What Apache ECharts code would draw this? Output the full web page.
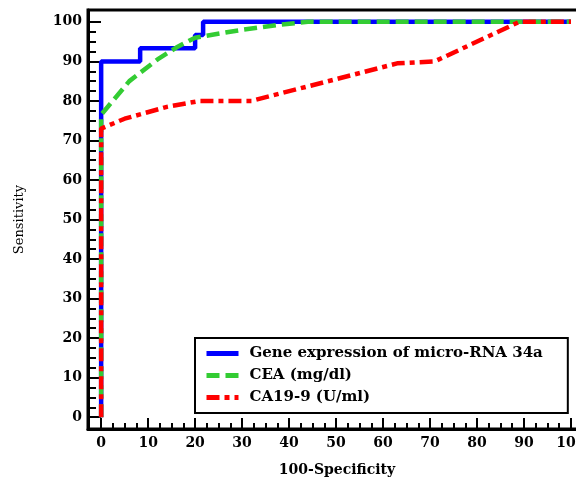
<!DOCTYPE html>
<html>
<head>
<meta charset="utf-8">
<script src="https://cdn.jsdelivr.net/npm/echarts@6/dist/echarts.min.js"></script>
<style>
  html, body { margin: 0; padding: 0; background: #fff; }
  #roc_chart { width: 576px; height: 478px; }
</style>
</head>
<body>
<div id="roc_chart"></div>
<script>
// 数据
var xTicks = [0, 10, 20, 30, 40, 50, 60, 70, 80, 90, 100]
var yTicks = [0, 10, 20, 30, 40, 50, 60, 70, 80, 90, 100]

var mirnaPoints = [[0, 0], [0, 90], [8.3, 90], [8.3, 93.3], [20, 93.3], [20, 96.7], [21.7, 96.7], [21.7, 100], [100, 100]]
var ceaPoints = [[0, 0], [0, 76.5], [6, 85], [12, 90.5], [16, 93.5], [20, 96], [30, 98], [38, 99.3], [44, 100], [100, 100]]
var caPoints = [[0, 0], [0, 73], [5, 75.5], [14, 78.5], [21, 80], [32, 80], [63, 89.5], [71, 90], [89, 100], [100, 100]]

var seriesNames = ['Gene expression of micro-RNA 34a', 'CEA (mg/dl)', 'CA19-9 (U/ml)']

function minorOf(ticks) {
  var out = []
  for (var i = 0; i < ticks.length - 1; i++) {
    var step = (ticks[i + 1] - ticks[i]) / 4
    for (var k = 1; k < 4; k++) out.push(ticks[i] + step * k)
  }
  return out
}

var font = 'DejaVu Serif'

var roc_chart = echarts.init(document.getElementById('roc_chart'))
var roc_option = {
  animation: false,
  grid: {
    left: 88,
    width: 498,
    top: 10,
    bottom: 49,
    outerBoundsMode: 'none',
    containLabel: false,
    show: true,
    borderColor: '#000',
    borderWidth: 3,
  },
  legend: {
    orient: 'vertical',
    left: 195,
    top: 338,
    padding: [8, 25, 8, 9],
    itemWidth: 32,
    itemHeight: 14,
    itemGap: 7,
    borderColor: '#000',
    borderWidth: 2,
    backgroundColor: '#fff',
    itemStyle: { opacity: 0 },
    lineStyle: { width: 5 },
    textStyle: {
      fontFamily: font,
      fontWeight: 'bold',
      fontSize: 15,
      color: '#000',
      padding: [0, 0, 0, 6],
    },
    data: seriesNames,
  },
  xAxis: [
    {
      type: 'value',
      min: -2.8,
      max: 103.2,
      position: 'bottom',
      name: '100-Specificity',
      nameLocation: 'middle',
      nameGap: 34,
      nameTextStyle: { fontFamily: font, fontWeight: 'bold', fontSize: 14, color: '#000' },
      splitLine: { show: false },
      axisLine: { onZero: false, lineStyle: { color: '#000', width: 3 } },
      axisTick: { inside: true, length: 11, lineStyle: { color: '#000', width: 2 }, customValues: xTicks },
      axisLabel: { customValues: xTicks, margin: 7, fontFamily: font, fontWeight: 'bold', fontSize: 14, color: '#000' },
    },
    {
      type: 'value',
      min: -2.8,
      max: 103.2,
      position: 'bottom',
      splitLine: { show: false },
      axisLine: { show: false, onZero: false },
      axisTick: { inside: true, length: 6, lineStyle: { color: '#000', width: 2 }, customValues: minorOf(xTicks) },
      axisLabel: { show: false },
    },
  ],
  yAxis: [
    {
      type: 'value',
      min: -3,
      max: 103,
      position: 'left',
      name: 'Sensitivity',
      nameLocation: 'middle',
      nameGap: 62,
      nameTextStyle: { fontFamily: font, fontSize: 13, color: '#000' },
      splitLine: { show: false },
      axisLine: { onZero: false, lineStyle: { color: '#000', width: 3 } },
      axisTick: { inside: true, length: 13, lineStyle: { color: '#000', width: 2 }, customValues: yTicks },
      axisLabel: { customValues: yTicks, margin: 6, fontFamily: font, fontWeight: 'bold', fontSize: 14, color: '#000' },
    },
    {
      type: 'value',
      min: -3,
      max: 103,
      position: 'left',
      splitLine: { show: false },
      axisLine: { show: false, onZero: false },
      axisTick: { inside: true, length: 8, lineStyle: { color: '#000', width: 2 }, customValues: minorOf(yTicks) },
      axisLabel: { show: false },
    },
  ],
  series: [
    {
      name: seriesNames[0],
      type: 'line',
      symbol: 'none',
      data: mirnaPoints,
      lineStyle: { color: '#0000ff', width: 4.5, type: 'solid' },
      itemStyle: { color: '#0000ff' },
    },
    {
      name: seriesNames[1],
      type: 'line',
      symbol: 'none',
      data: ceaPoints,
      lineStyle: { color: '#33cc33', width: 4.5, type: [13, 6] },
      itemStyle: { color: '#33cc33' },
    },
    {
      name: seriesNames[2],
      type: 'line',
      symbol: 'none',
      data: caPoints,
      lineStyle: { color: '#ff0000', width: 4.5, type: [13, 5, 5, 5] },
      itemStyle: { color: '#ff0000' },
    },
  ],
}
roc_chart.setOption(roc_option)
</script>
</body>
</html>
